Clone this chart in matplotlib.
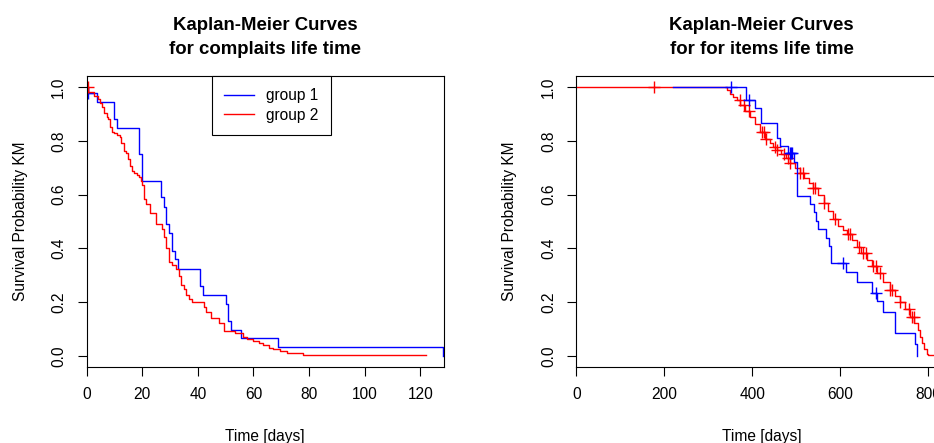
import numpy as np
import matplotlib
matplotlib.use("Agg")
import matplotlib.pyplot as plt
from matplotlib.lines import Line2D

plt.rcParams['font.family'] = ['Liberation Sans', 'DejaVu Sans']

# ---------------- data: left panel (complaints life time) ----------------
left_title = "Kaplan-Meier Curves\nfor complaits life time"
right_title = "Kaplan-Meier Curves\nfor for items life time"
group_labels = ["group 1", "group 2"]

L_g1_time = [0, 0.7, 3.6, 9.9, 11.0, 18.8, 20.0, 26.8, 27.8, 28.7, 29.6, 30.8,
             31.8, 32.9, 40.8, 41.9, 50.0, 51.0, 51.8, 55.6, 68.7, 128.0]
L_g1_surv = [1.0, 0.978, 0.944, 0.880, 0.846, 0.751, 0.652, 0.590, 0.553, 0.490,
             0.457, 0.390, 0.360, 0.325, 0.260, 0.227, 0.193, 0.131, 0.097,
             0.067, 0.033, 0.0]
L_g1_cens = [0.7]

L_g2_time = [0, 0.7, 2.8, 4.3, 5.0, 5.7, 6.4, 7.2, 7.6, 8.3, 9.1, 10.0, 11.0,
             11.9, 12.4, 13.4, 14.1, 14.8, 15.5, 16.5, 17.2, 18.2, 18.9, 19.6,
             20.1, 20.6, 21.5, 22.7, 24.9, 27.1, 27.9, 28.7, 29.6, 30.8, 32.0,
             33.3, 33.8, 35.1, 35.7, 36.9, 38.1, 42.2, 43.1, 44.8, 47.7, 49.6,
             53.3, 56.3, 57.7, 59.9, 62.1, 63.5, 65.6, 67.1, 69.5, 71.9, 77.7,
             121.9]
L_g2_surv = [1.0, 0.981, 0.967, 0.954, 0.942, 0.927, 0.902, 0.890, 0.880,
             0.852, 0.834, 0.828, 0.822, 0.813, 0.791, 0.763, 0.754, 0.731,
             0.706, 0.689, 0.679, 0.673, 0.664, 0.652, 0.636, 0.585, 0.565,
             0.530, 0.491, 0.471, 0.441, 0.400, 0.351, 0.338, 0.322, 0.297,
             0.264, 0.248, 0.227, 0.212, 0.202, 0.181, 0.165, 0.140, 0.124,
             0.094, 0.084, 0.072, 0.062, 0.055, 0.047, 0.040, 0.030, 0.025,
             0.017, 0.012, 0.003, 0.003]
L_g2_cens = [0.4]

# ---------------- data: right panel (items life time) ----------------
R_g1_time = [220, 385, 406, 419, 455, 464, 482, 495, 502, 531, 541, 545, 550,
             567, 575, 578, 612, 637, 673, 684, 696, 724, 769, 774]
R_g1_surv = [1.0, 0.952, 0.921, 0.865, 0.809, 0.781, 0.753, 0.722, 0.595,
             0.565, 0.536, 0.502, 0.471, 0.440, 0.409, 0.345, 0.311, 0.276,
             0.233, 0.206, 0.165, 0.084, 0.045, 0.0]
R_g1_cens = [351, 393, 486, 489, 491, 607, 680]

R_g2_time = [0, 342, 350, 357, 365, 372, 383, 394, 405, 417, 429, 440, 448,
             456, 466, 476, 486, 497, 508, 518, 529, 539, 550, 562, 572, 584,
             595, 605, 615, 626, 637, 648, 660, 671, 683, 698, 713, 724, 735,
             746, 758, 768, 777, 781, 785, 790, 796, 800, 842]
R_g2_surv = [1.0, 0.990, 0.975, 0.964, 0.950, 0.933, 0.912, 0.890, 0.862,
             0.834, 0.808, 0.790, 0.778, 0.766, 0.750, 0.735, 0.718, 0.700,
             0.679, 0.660, 0.642, 0.624, 0.597, 0.570, 0.540, 0.508, 0.485,
             0.468, 0.452, 0.430, 0.406, 0.383, 0.357, 0.333, 0.307, 0.276,
             0.245, 0.224, 0.202, 0.175, 0.146, 0.122, 0.097, 0.072, 0.047,
             0.025, 0.008, 0.004, 0.004]
R_g2_cens = [177, 371, 380, 393, 421, 427, 430, 451, 456, 471, 482, 486, 508,
             515, 539, 542, 562, 587, 617, 621, 643, 651, 658, 675, 682, 690,
             713, 718, 735, 757, 763, 767]

x_label = "Time [days]"
y_label = "Survival Probability KM"
L_xticks = [0, 20, 40, 60, 80, 100, 120]
R_xticks = [0, 200, 400, 600, 800]
y_ticks = [0.0, 0.2, 0.4, 0.6, 0.8, 1.0]

BLUE = "#0000FF"
RED = "#FF0000"

W, H = 934, 443
fig = plt.figure(figsize=(W / 100, H / 100), dpi=100)


def px_axes(l, r, t, b):
    return fig.add_axes([l / W, 1 - b / H, (r - l) / W, (b - t) / H])


def surv_at(times, surv, t):
    i = np.searchsorted(np.asarray(times), t, side='right') - 1
    return np.asarray(surv)[i]


def draw_curve(ax, times, surv, cens, color):
    ax.step(times, surv, where='post', color=color, lw=1.0)
    if cens:
        cs = [surv_at(times, surv, c) for c in cens]
        ax.plot(cens, cs, ls='none', marker='+', ms=8, mew=1.0, color=color)


def style(ax, xlim, xticks):
    ax.set_xlim(*xlim)
    ax.set_ylim(-0.04, 1.04)
    ax.set_xticks(xticks)
    ax.set_yticks(y_ticks)
    ax.set_yticklabels([f"{v:.1f}" for v in y_ticks])
    ax.tick_params(direction='out', length=6.5, width=0.8, labelsize=11.2,
                   pad=8, colors='black')
    for lbl in ax.get_yticklabels():
        lbl.set_rotation(90)
        lbl.set_va('center')
    for s in ax.spines.values():
        s.set_linewidth(0.8)
        s.set_color('black')
    ax.set_xlabel(x_label, fontsize=11.2, va='center')
    ax.xaxis.set_label_coords(0.5, -0.24)
    ax.set_ylabel(y_label, fontsize=11.2, va='center')


axL = px_axes(86.5, 444, 76.2, 366.8)
axR = px_axes(576.3, 947, 76.2, 366.8)

draw_curve(axL, L_g1_time, L_g1_surv, L_g1_cens, BLUE)
draw_curve(axL, L_g2_time, L_g2_surv, L_g2_cens, RED)
style(axL, (0, 128.5), L_xticks)
axL.yaxis.set_label_coords(-0.186, 0.5)

draw_curve(axR, R_g2_time, R_g2_surv, R_g2_cens, RED)
draw_curve(axR, R_g1_time, R_g1_surv, R_g1_cens, BLUE)
style(axR, (0, 842.5), R_xticks)
axR.yaxis.set_label_coords(-0.18, 0.5)

# legend (left panel)
handles = [Line2D([], [], color=BLUE, lw=1.0), Line2D([], [], color=RED, lw=1.0)]
leg = axL.legend(handles, group_labels, loc='upper center',
                 bbox_to_anchor=(0.518, 1.0), frameon=True, fancybox=False,
                 edgecolor='black', framealpha=1, borderaxespad=0,
                 handlelength=1.9, handletextpad=0.8, borderpad=0.78,
                 labelspacing=0.28, fontsize=11.2)
leg.get_frame().set_linewidth(0.8)

# titles
for ax, title in ((axL, left_title), (axR, right_title)):
    bb = ax.get_position()
    cx = (bb.x0 + bb.x1) / 2
    l1, l2 = title.split("\n")
    fig.text(cx, 1 - 26 / H, l1, ha='center', va='center', fontsize=13.4,
             fontweight='bold')
    fig.text(cx, 1 - 49 / H, l2, ha='center', va='center', fontsize=13.4,
             fontweight='bold')

fig.savefig("out.png", dpi=100)
